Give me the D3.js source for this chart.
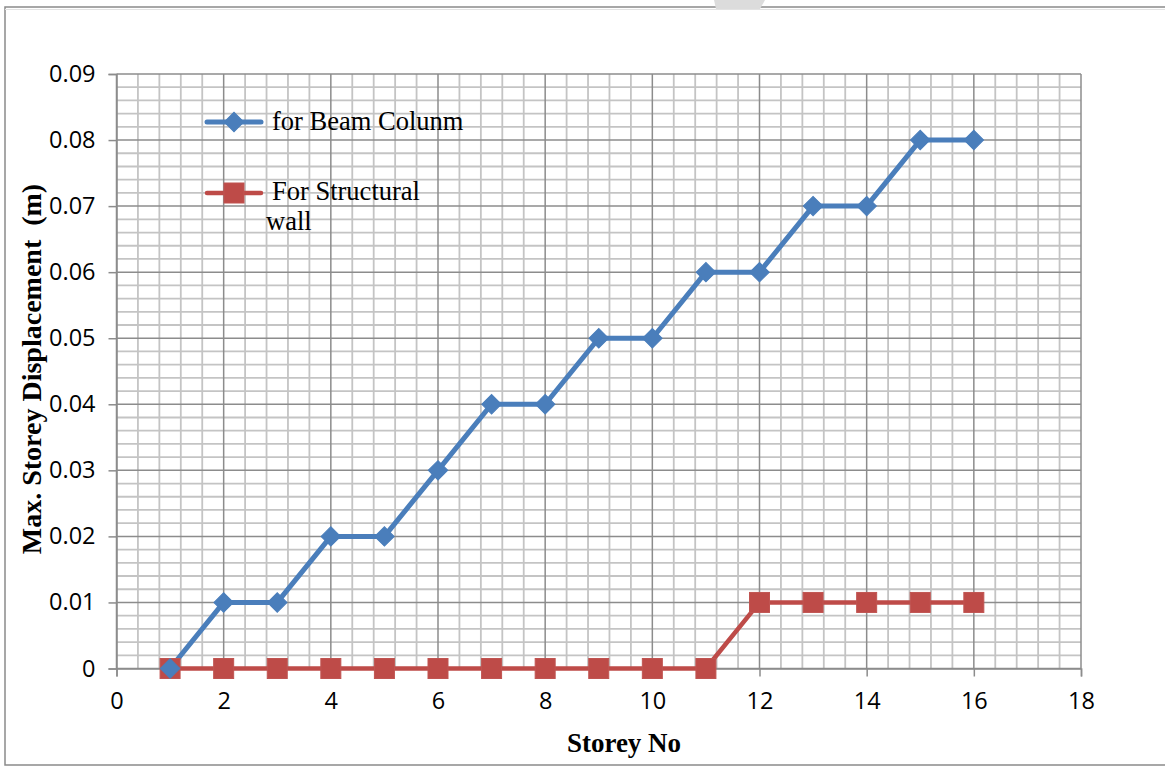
<!DOCTYPE html>
<html>
<head>
<meta charset="utf-8">
<script src="https://cdn.jsdelivr.net/npm/d3@7"></script>
<style>
  html, body { margin: 0; padding: 0; background: #fff; }
  svg { display: block; }
</style>
</head>
<body>
<svg id="chart" width="1165" height="767"></svg>
<script>
// Storey numbers and peak displacement (m) for each framing system
const storeys = [1, 2, 3, 4, 5, 6, 7, 8, 9, 10, 11, 12, 13, 14, 15, 16];
const beamColumn = [0, 0.01, 0.01, 0.02, 0.02, 0.03, 0.04, 0.04, 0.05, 0.05, 0.06, 0.06, 0.07, 0.07, 0.08, 0.08];
const structuralWall = [0, 0, 0, 0, 0, 0, 0, 0, 0, 0, 0, 0.01, 0.01, 0.01, 0.01, 0.01];
const seriesNames = ["for Beam Colunm", "For Structural wall"];
const xTicks = [0, 2, 4, 6, 8, 10, 12, 14, 16, 18];
const yTicks = [0, 0.01, 0.02, 0.03, 0.04, 0.05, 0.06, 0.07, 0.08, 0.09];

const svg = d3.select("#chart");
const W = 1165;
const plot = { left: 116.5, right: 1081, top: 74, bottom: 668.5 };

// frame around the chart
svg.append("rect").attr("x", 5).attr("y", 7).attr("width", W + 10).attr("height", 758)
  .attr("fill", "none").attr("stroke", "#8a8a8a").attr("stroke-width", 1.5);
svg.append("rect").attr("x", 5).attr("y", 9).attr("width", W).attr("height", 1)
  .attr("fill", "#e3e3e3");
svg.append("path").attr("d", "M714,0 L765,0 L760,9 L716,9 Z").attr("fill", "#dcdcdc");

const x = d3.scaleLinear().domain([0, 18]).range([plot.left, plot.right]);
const y = d3.scaleLinear().domain([0, 0.09]).range([plot.bottom, plot.top]);

// minor grid
const g = svg.append("g");
const minorX = d3.range(0, 18.0001, 0.4).filter(v => Math.abs(v / 2 - Math.round(v / 2)) > 1e-6);
const minorY = d3.range(0, 0.09001, 0.002).filter(v => Math.abs(v / 0.01 - Math.round(v / 0.01)) > 1e-6);
g.selectAll(".mx").data(minorX).join("line")
  .attr("x1", d => x(d)).attr("x2", d => x(d))
  .attr("y1", plot.top).attr("y2", plot.bottom)
  .attr("stroke", "#c4c4c4").attr("stroke-width", 1.8);
g.selectAll(".my").data(minorY).join("line")
  .attr("x1", plot.left).attr("x2", plot.right)
  .attr("y1", d => y(d)).attr("y2", d => y(d))
  .attr("stroke", "#c4c4c4").attr("stroke-width", 1.8);

// major grid
g.selectAll(".Mx").data(xTicks).join("line")
  .attr("x1", d => x(d)).attr("x2", d => x(d))
  .attr("y1", plot.top).attr("y2", plot.bottom)
  .attr("stroke", "#8c8c8c").attr("stroke-width", 1.5);
g.selectAll(".My").data(yTicks).join("line")
  .attr("x1", plot.left).attr("x2", plot.right)
  .attr("y1", d => y(d)).attr("y2", d => y(d))
  .attr("stroke", "#8c8c8c").attr("stroke-width", 1.5);

// axes
const xAxis = d3.axisBottom(x).tickValues(xTicks).tickFormat(d3.format("d")).tickSize(8).tickPadding(16);
const yAxis = d3.axisLeft(y).tickValues(yTicks).tickFormat(d => d === 0 ? "0" : d3.format(".2f")(d)).tickSize(8).tickPadding(13);

const xa = svg.append("g").attr("transform", `translate(0,${plot.bottom})`).call(xAxis);
const ya = svg.append("g").attr("transform", `translate(${plot.left},0)`).call(yAxis);
[xa, ya].forEach(a => {
  a.attr("font-family", "'Open Sans', sans-serif").attr("font-size", 23.5);
  a.select(".domain").attr("stroke", "#8c8c8c").attr("stroke-width", 1.5);
  a.selectAll(".tick line").attr("stroke", "#8c8c8c").attr("stroke-width", 1.5);
  a.selectAll(".tick text").attr("fill", "#000");
});

// series
const line = d3.line().x(d => x(d[0])).y(d => y(d[1]));
const blue = "#4a7ebb", red = "#be4b48";
const beamPts = storeys.map((s, i) => [s, beamColumn[i]]);
const wallPts = storeys.map((s, i) => [s, structuralWall[i]]);

svg.append("path").datum(wallPts).attr("d", line)
  .attr("fill", "none").attr("stroke", red).attr("stroke-width", 4.5).attr("stroke-linejoin", "round");
svg.append("path").datum(beamPts).attr("d", line)
  .attr("fill", "none").attr("stroke", blue).attr("stroke-width", 5).attr("stroke-linejoin", "round");

const diamond = d3.symbol().type(d3.symbolSquare).size(190);
function drawDiamond(sel, cx, cy) {
  sel.append("path").attr("d", diamond())
    .attr("transform", `translate(${cx},${cy}) rotate(45)`)
    .attr("fill", blue).attr("stroke", blue).attr("stroke-width", 1);
}
function drawSquare(sel, cx, cy) {
  sel.append("rect").attr("x", cx - 10).attr("y", cy - 10).attr("width", 20).attr("height", 20)
    .attr("fill", red).attr("stroke", "#c05451").attr("stroke-width", 1);
}
const wm = svg.append("g");
wallPts.forEach(p => drawSquare(wm, x(p[0]), y(p[1])));
const bm = svg.append("g");
beamPts.forEach(p => drawDiamond(bm, x(p[0]), y(p[1])));

// legend
const serif = "'Liberation Serif', 'Times New Roman', serif";
const lg = svg.append("g");
lg.append("line").attr("x1", 207).attr("x2", 261).attr("y1", 122).attr("y2", 122)
  .attr("stroke", blue).attr("stroke-width", 5).attr("stroke-linecap", "round");
drawDiamond(lg, 234, 122);
lg.append("text").attr("x", 272).attr("y", 130).text(seriesNames[0])
  .style("font-family", serif).style("font-size", "26.5px").attr("fill", "#000");

lg.append("line").attr("x1", 207).attr("x2", 261).attr("y1", 193).attr("y2", 193)
  .attr("stroke", red).attr("stroke-width", 4.5).attr("stroke-linecap", "round");
drawSquare(lg, 234, 193);
const wallWords = seriesNames[1].split(" ");
lg.append("text").attr("x", 272).attr("y", 200).text(wallWords.slice(0, 2).join(" "))
  .style("font-family", serif).style("font-size", "26.5px").attr("fill", "#000");
lg.append("text").attr("x", 266).attr("y", 230).text(wallWords[2])
  .style("font-family", serif).style("font-size", "26.5px").attr("fill", "#000");

// axis titles
svg.append("text").attr("x", 624).attr("y", 752)
  .attr("text-anchor", "middle").text("Storey No")
  .style("font-family", serif).style("font-weight", "bold").style("font-size", "27px");
svg.append("text").attr("transform", `translate(41,369) rotate(-90)`)
  .attr("text-anchor", "middle").text("Max. Storey Displacement  (m)")
  .attr("xml:space", "preserve").style("white-space", "pre")
  .style("font-family", serif).style("font-weight", "bold").style("font-size", "28px");
</script>
</body>
</html>
